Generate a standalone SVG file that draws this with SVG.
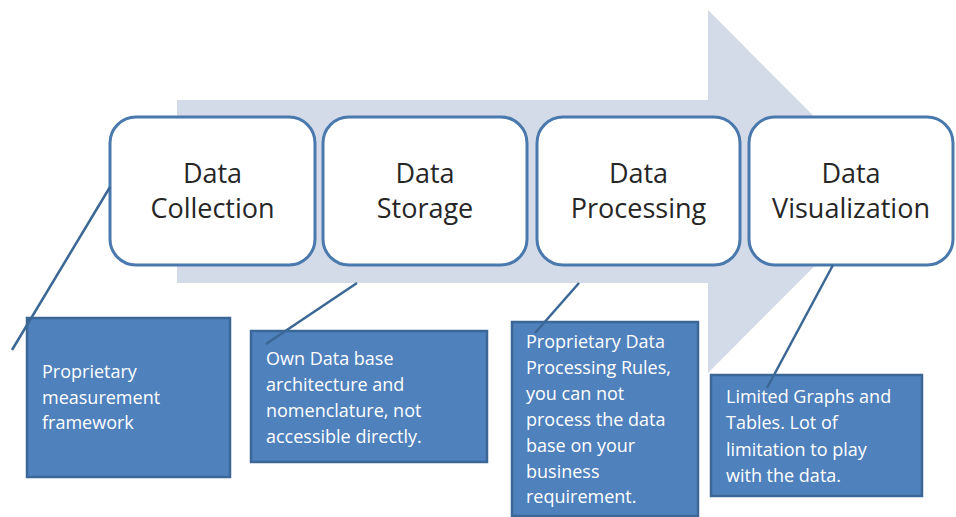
<svg xmlns="http://www.w3.org/2000/svg" width="956" height="517" viewBox="0 0 956 517">
<style>
.step{fill:#ffffff;stroke:#4a79ad;stroke-width:3}
.title{font-family:"Open Sans","Liberation Sans",sans-serif;font-size:27px;fill:#262626;text-anchor:middle}
.note{fill:#4f81bd;stroke:#3a6796;stroke-width:2.5}
.ntext{font-family:"Open Sans","Liberation Sans",sans-serif;font-size:18px;fill:#ffffff}
.conn{stroke:#3b6795;stroke-width:2.5;fill:none}
</style>
<rect width="956" height="517" fill="#ffffff"/>
<polygon id="big-arrow" points="177,100 708,100 708,10 889,191.5 708,373 708,283 177,283" fill="#d3dbe8"/>
<g id="step-collection">
<rect class="step" x="110" y="117" width="205" height="148" rx="26"/>
<text class="title" x="212.5" y="183">Data</text>
<text class="title" x="212.5" y="218">Collection</text>
</g>
<g id="step-storage">
<rect class="step" x="323" y="117" width="204" height="148" rx="26"/>
<text class="title" x="425" y="183">Data</text>
<text class="title" x="425" y="218">Storage</text>
</g>
<g id="step-processing">
<rect class="step" x="537" y="117" width="203" height="148" rx="26"/>
<text class="title" x="638.5" y="183">Data</text>
<text class="title" x="638.5" y="218">Processing</text>
</g>
<g id="step-visualization">
<rect class="step" x="749" y="117" width="204" height="148" rx="26"/>
<text class="title" x="851" y="183">Data</text>
<text class="title" x="851" y="218">Visualization</text>
</g>
<g id="note-collection">
<rect class="note" x="27" y="318" width="203" height="159"/>
<text class="ntext" x="42" y="378">Proprietary</text>
<text class="ntext" x="42" y="404">measurement</text>
<text class="ntext" x="42" y="429">framework</text>
</g>
<g id="note-storage">
<rect class="note" x="251" y="331" width="236" height="131"/>
<text class="ntext" x="266" y="365">Own Data base</text>
<text class="ntext" x="266" y="391">architecture and</text>
<text class="ntext" x="266" y="417">nomenclature, not</text>
<text class="ntext" x="266" y="443">accessible directly.</text>
</g>
<g id="note-processing">
<rect class="note" x="512" y="322" width="186" height="194"/>
<text class="ntext" x="526" y="348">Proprietary Data</text>
<text class="ntext" x="526" y="374">Processing Rules,</text>
<text class="ntext" x="526" y="400">you can not</text>
<text class="ntext" x="526" y="426">process the data</text>
<text class="ntext" x="526" y="452">base on your</text>
<text class="ntext" x="526" y="478">business</text>
<text class="ntext" x="526" y="503">requirement.</text>
</g>
<g id="note-visualization">
<rect class="note" x="711" y="375" width="211" height="121"/>
<text class="ntext" x="726" y="403">Limited Graphs and</text>
<text class="ntext" x="726" y="429">Tables. Lot of</text>
<text class="ntext" x="726" y="456">limitation to play</text>
<text class="ntext" x="726" y="482">with the data.</text>
</g>
<g id="connectors">
<line class="conn" x1="110" y1="187" x2="12" y2="350"/>
<line class="conn" x1="357" y1="283" x2="266" y2="344"/>
<line class="conn" x1="579" y1="283" x2="535" y2="333"/>
<line class="conn" x1="833" y1="265" x2="767" y2="388"/>
</g>
</svg>
